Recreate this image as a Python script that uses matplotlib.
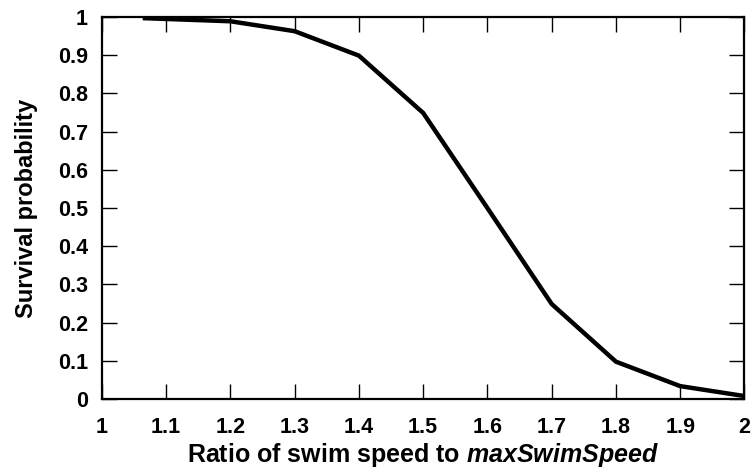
import matplotlib
matplotlib.use("Agg")
import matplotlib.pyplot as plt

ratio = [1.067, 1.2, 1.3, 1.4, 1.5, 1.6, 1.7, 1.8, 1.9, 2.0]
survival = [0.997, 0.989, 0.963, 0.899, 0.749, 0.50, 0.249, 0.098, 0.034, 0.008]
xticks = [1, 1.1, 1.2, 1.3, 1.4, 1.5, 1.6, 1.7, 1.8, 1.9, 2]
xticklabels = ["1", "1.1", "1.2", "1.3", "1.4", "1.5", "1.6", "1.7", "1.8", "1.9", "2"]
yticks = [0, 0.1, 0.2, 0.3, 0.4, 0.5, 0.6, 0.7, 0.8, 0.9, 1]
yticklabels = ["0", "0.1", "0.2", "0.3", "0.4", "0.5", "0.6", "0.7", "0.8", "0.9", "1"]

plt.rcParams['font.family'] = ['Liberation Sans', 'DejaVu Sans']
plt.rcParams['font.weight'] = 'bold'
plt.rcParams['mathtext.fontset'] = 'custom'
plt.rcParams['mathtext.it'] = 'Liberation Sans:italic:bold'
plt.rcParams['mathtext.rm'] = 'Liberation Sans:bold'

fig = plt.figure(figsize=(7.55, 4.74), dpi=100)
ax = fig.add_axes([0.135, 0.158, 0.851, 0.806])
ax.plot(ratio, survival, color='black', linewidth=3.2, solid_joinstyle='miter')
ax.set_xlim(1, 2)
ax.set_ylim(0, 1)
ax.set_xticks(xticks)
ax.set_xticklabels(xticklabels)
ax.set_yticks(yticks)
ax.set_yticklabels(yticklabels)
ax.tick_params(direction='in', length=11, width=1.0, top=True, right=True,
               labelsize=15.5)
ax.tick_params(axis='x', pad=13)
ax.tick_params(axis='y', pad=10)
for lab in ax.get_xticklabels() + ax.get_yticklabels():
    lab.set_fontweight('bold')
for s in ax.spines.values():
    s.set_linewidth(1.6)
ax.set_xlabel(r"Ratio of swim speed to $\mathit{maxSwimSpeed}$", fontsize=18,
              fontweight='bold', labelpad=2)
ax.set_ylabel("Survival probability", fontsize=17, fontweight='bold', labelpad=14)
fig.savefig("out.png", dpi=100)
